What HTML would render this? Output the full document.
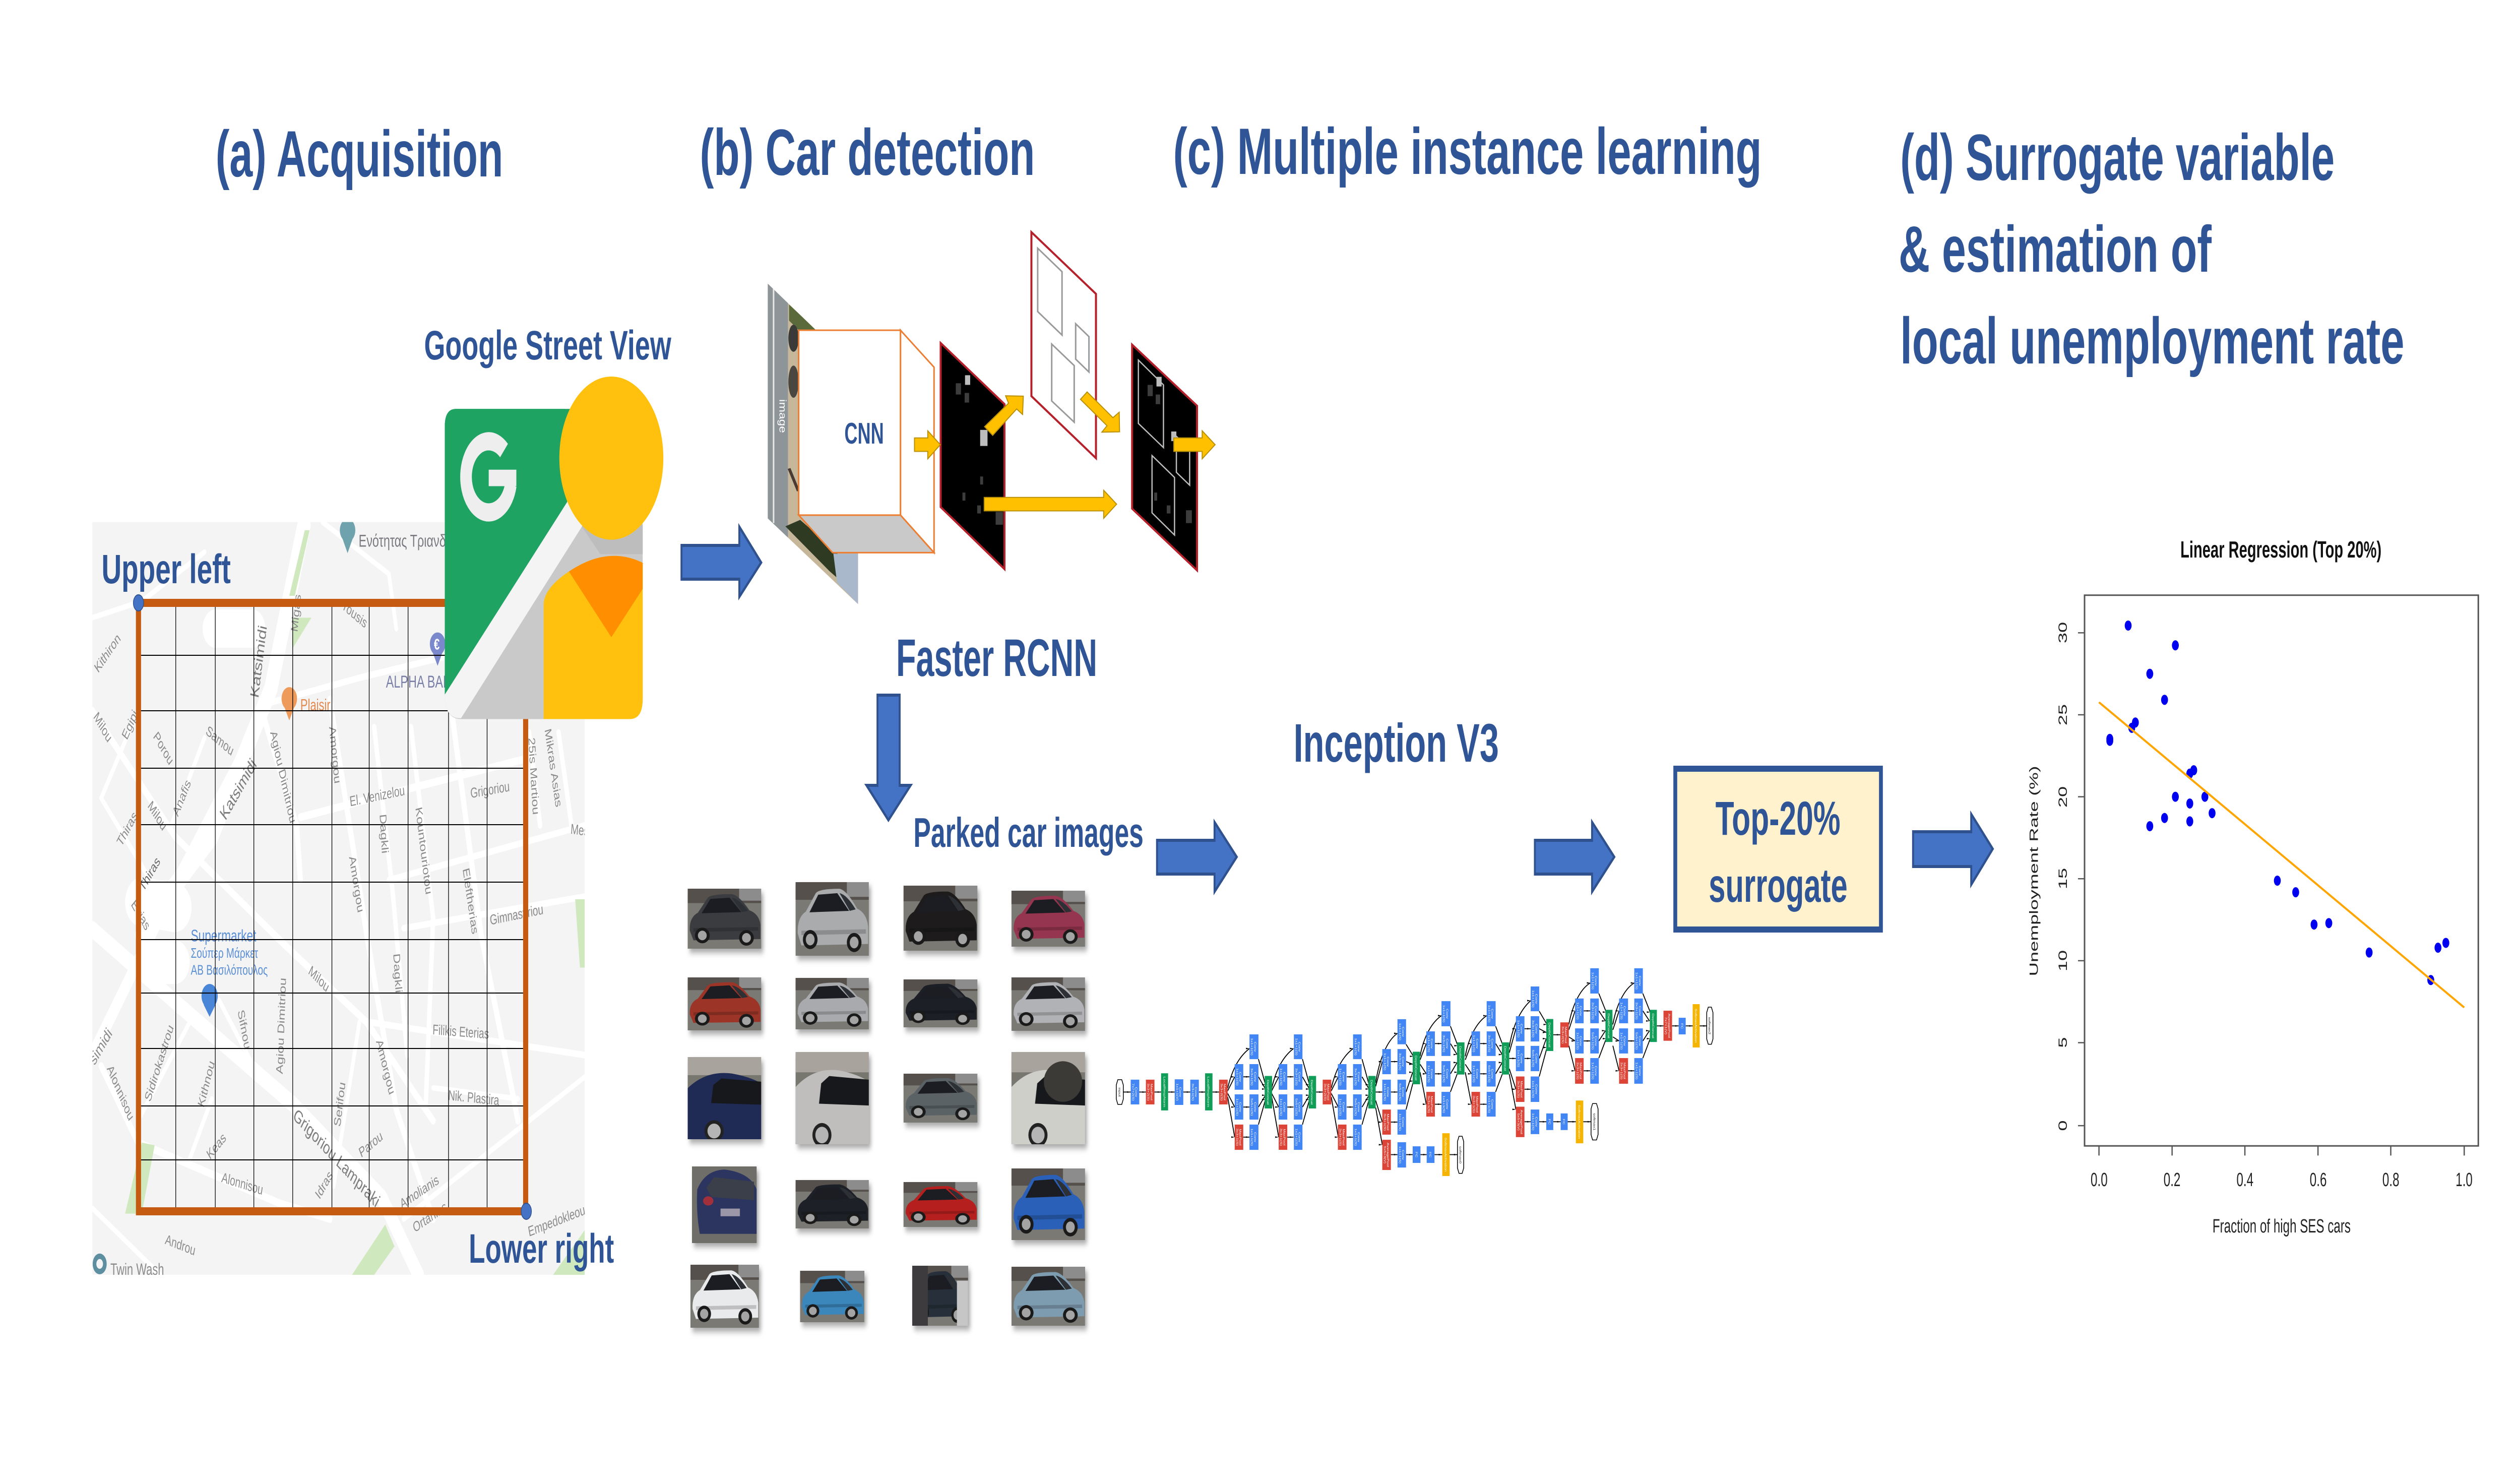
<!DOCTYPE html>
<html>
<head>
<meta charset="utf-8">
<title>Pipeline diagram</title>
<style>
html,body{margin:0;padding:0;background:#fff;width:100%;height:100%;overflow:hidden}
svg.root{display:block;width:100vw;height:100vh}
text{font-family:"Liberation Sans",sans-serif}
.t{font-weight:bold;fill:#2f5597}
.ba{fill:#4472c4;stroke:#2f528f;stroke-width:6}
.ga{fill:#ffc000;stroke:#b8900a;stroke-width:2;vector-effect:non-scaling-stroke}
.rp{stroke:#b5202b;stroke-width:4;vector-effect:non-scaling-stroke}
.gr{fill:none;stroke:#9a9a9a;stroke-width:3;vector-effect:non-scaling-stroke}
.gl{fill:none;stroke:#bdbdbd;stroke-width:2.5;vector-effect:non-scaling-stroke}
.b{fill:#4285f4}.r{fill:#db4437}.g{fill:#0f9d58}.y{fill:#f4b400}
.n{font-size:7px;fill:#fff;text-anchor:middle}
.nk{font-size:7px;fill:#111;text-anchor:middle}
.o{fill:#fff;stroke:#000;stroke-width:1.5;vector-effect:non-scaling-stroke}
.e path{fill:none;stroke:#000;stroke-width:1.8;vector-effect:non-scaling-stroke;marker-end:url(#ah)}
.e{marker-end:url(#ah)}
.road path{fill:none;stroke:#fff;stroke-linecap:round;stroke-linejoin:round}
.m{font-size:26px;fill:#8c8c8c}
.md{font-size:33px;fill:#7d7d7d}
.tk{font-size:38px;fill:#222}
</style>
</head>
<body>
<svg class="root" xmlns="http://www.w3.org/2000/svg" viewBox="0 0 7843 2942" preserveAspectRatio="none">
<defs>
<marker id="ah" viewBox="0 0 10 10" markerUnits="userSpaceOnUse" markerWidth="9" markerHeight="20" refX="10" refY="5" orient="0"><path d="M0,0L10,5L0,10Z" fill="#000"/></marker>
<clipPath id="mapc"><rect x="76" y="125" width="1335" height="1377"/></clipPath>
<clipPath id="imgc"><polygon points="252,255 497,526 497,1252 252,985"/></clipPath>
<g id="car">
<rect width="100" height="100" fill="#7a7973"/>
<rect width="100" height="24" fill="#55504b"/>
<rect x="70" y="0" width="30" height="20" fill="#8d8c8c"/>
<path d="M3,70Q2,48 14,40L27,16Q30,9 60,9Q70,11 84,36Q97,42 99,60L99,84L8,86Z" fill="currentColor"/>
<path d="M19,41L31,17L57,15L73,39Z" fill="#1b1d22"/>
<path d="M60,15Q70,17 82,37L74,39Z" fill="#2d3034"/>
<path d="M8,66L96,64L96,70L8,72Z" fill="#000" opacity=".18"/>
<ellipse cx="20" cy="78" rx="10" ry="13" fill="#1a1a1a"/><ellipse cx="20" cy="78" rx="6" ry="8" fill="#a4a4a4"/>
<ellipse cx="80" cy="82" rx="10" ry="13" fill="#1a1a1a"/><ellipse cx="80" cy="82" rx="6" ry="8" fill="#a4a4a4"/>
</g>
<g id="close">
<rect width="100" height="100" fill="#77766f"/>
<rect width="100" height="22" fill="#a8a49d"/>
<path d="M0,38Q25,16 60,20Q85,24 100,32V100H0Z" fill="currentColor"/>
<path d="M35,34L46,26L100,30V58L32,56Z" fill="#17181c"/>
<ellipse cx="36" cy="90" rx="13" ry="13" fill="#222"/><ellipse cx="36" cy="90" rx="9" ry="9" fill="#b5b5b5"/>
</g>
</defs>

<!-- ===== MAP ===== -->
<g transform="translate(200,900) scale(1.14811,1.08460)">
<g clip-path="url(#mapc)">
<rect x="76" y="125" width="1335" height="1377" fill="#f4f4f4"/>
<g class="road">
<path stroke-width="30" d="M76,870L330,1020L620,1190L860,1360L960,1502"/>
<path stroke-width="36" d="M650,130L560,430L500,530L400,700L300,790L210,880"/>
<path stroke-width="26" d="M500,530L300,790L76,1100"/>
<path stroke-width="90" d="M210,820L300,830"/>
<path stroke-width="70" d="M410,320L510,320"/>
<path stroke-width="80" d="M250,930L300,930"/>
<path stroke-width="14" d="M540,480L630,680L640,780"/>
<path stroke-width="14" d="M720,450L820,880L900,1200L1000,1400"/>
<path stroke-width="14" d="M1050,470L1130,880L1230,1220"/>
<path stroke-width="12" d="M840,500L890,800L930,1100"/>
<path stroke-width="12" d="M940,500L1000,850L980,1190"/>
<path stroke-width="14" d="M640,665L950,610L1240,560"/>
<path stroke-width="12" d="M560,455L800,410L1040,370"/>
<path stroke-width="12" d="M880,780L1411,680"/>
<path stroke-width="12" d="M920,868L1411,810"/>
<path stroke-width="12" d="M830,1040L1411,1100"/>
<path stroke-width="10" d="M1000,1160L1230,1180"/>
<path stroke-width="14" d="M76,470L300,700L600,900L820,1040L1000,1220"/>
<path stroke-width="14" d="M100,1120L200,1260L580,1370L720,1400"/>
<path stroke-width="10" d="M340,1040L200,1220"/>
<path stroke-width="10" d="M420,1000L520,1130"/>
<path stroke-width="10" d="M400,1180L340,1290"/>
<path stroke-width="10" d="M800,1040L730,1340"/>
<path stroke-width="10" d="M76,300L210,270L380,180"/>
<path stroke-width="10" d="M100,630L260,810"/>
<path stroke-width="10" d="M200,470L100,630"/>
<path stroke-width="10" d="M380,520L290,680"/>
<path stroke-width="10" d="M920,1400L1411,1140"/>
<path stroke-width="12" d="M1260,510L1290,680"/>
<path stroke-width="12" d="M1340,510L1375,680"/>
<path stroke-width="10" d="M76,1380L260,1502"/>
<path stroke-width="10" d="M700,125L880,220L900,320"/>
</g>
<g fill="#cfe8bd">
<polygon points="652,140 665,140 625,260 610,260"/>
<polygon points="620,300 670,300 620,355"/>
<polygon points="210,1260 245,1265 210,1390 165,1390"/>
<polygon points="1385,815 1411,815 1411,940 1398,940"/>
<polygon points="870,1410 895,1450 840,1502 780,1502"/>
<polygon points="1325,1502 1411,1420 1411,1502"/>
</g>
<circle cx="1012" cy="348" r="21" fill="#7c88cc"/><polygon points="998,362 1026,362 1012,388" fill="#7c88cc"/>
<text x="1002" y="358" font-size="28" fill="#fff" font-weight="bold">€</text>
<circle cx="394" cy="992" r="22" fill="#4a86d8"/><polygon points="378,1008 410,1008 394,1030" fill="#4a86d8"/>
<circle cx="610" cy="448" r="21" fill="#ee9a5a"/><polygon points="596,462 624,462 610,488" fill="#ee9a5a"/>
<circle cx="96" cy="1482" r="19" fill="#5d8fa0"/><circle cx="96" cy="1482" r="9" fill="#f4f4f4"/>
<circle cx="768" cy="140" r="21" fill="#6ea3ad"/><polygon points="754,155 782,155 768,182" fill="#6ea3ad"/>
<text class="m" x="798" y="170" font-size="32" style="font-size:32px;fill:#7a7a80">Ενότητας Τριανδ</text>
<text class="m" transform="translate(92,402) rotate(-45)">Kithiron</text>
<text class="m" transform="translate(78,482) rotate(50)">Milou</text>
<text class="m" transform="translate(170,525) rotate(-58)">Egipi</text>
<text class="m" transform="translate(240,518) rotate(50)">Porou</text>
<text class="m" transform="translate(382,512) rotate(30)">Samou</text>
<text class="md" transform="translate(526,448) rotate(-80)">Katsimidi</text>
<text class="md" transform="translate(437,672) rotate(-50)">Katsimidi</text>
<text class="m" transform="translate(632,327) rotate(-82)">Migas</text>
<text class="m" transform="translate(755,285) rotate(30)">rousis</text>
<text class="m" x="640" y="470" style="font-size:30px;fill:#e58a4e">Plaisir</text>
<text class="m" x="872" y="428" style="font-size:32px;fill:#7a7fa8">ALPHA BAN</text>
<text class="m" transform="translate(558,510) rotate(72)">Agiou Dimitriou</text>
<text class="m" transform="translate(718,500) rotate(82)">Amorgou</text>
<text class="m" transform="translate(775,645) rotate(-8)">El. Venizelou</text>
<text class="m" transform="translate(1102,630) rotate(-7)">Grigoriou</text>
<text class="m" transform="translate(855,660) rotate(85)">Dagkli</text>
<text class="m" transform="translate(952,648) rotate(80)">Kountouriotou</text>
<text class="m" transform="translate(1258,520) rotate(85)">25is Martiou</text>
<text class="m" transform="translate(1302,505) rotate(78)">Mikras Asias</text>
<text class="m" transform="translate(1372,695) rotate(5)">Mes</text>
<text class="m" transform="translate(308,665) rotate(-60)">Anafis</text>
<text class="m" transform="translate(225,645) rotate(48)">Milou</text>
<text class="m" transform="translate(155,720) rotate(-52)">Thiras</text>
<text class="m" transform="translate(215,802) rotate(-50)" style="fill:#6b6b6b">Thiras</text>
<text class="m" transform="translate(772,738) rotate(77)">Amorgou</text>
<text class="m" transform="translate(1080,760) rotate(78)">Eleftherias</text>
<text class="m" transform="translate(1155,862) rotate(-8)">Gimnastiriou</text>
<text class="m" transform="translate(180,825) rotate(50)">Evias</text>
<text class="m" x="343" y="892" style="font-size:31px;fill:#5b8fd6">Supermarket</text>
<text class="m" x="343" y="922" style="fill:#5b8fd6">Σούπερ Μάρκετ</text>
<text class="m" x="343" y="953" style="fill:#5b8fd6">ΑΒ Βασιλόπουλος</text>
<text class="m" transform="translate(660,950) rotate(35)">Milou</text>
<text class="m" transform="translate(892,915) rotate(85)">Dagkli</text>
<text class="m" transform="translate(592,1135) rotate(-87)">Agiou Dimitriou</text>
<text class="m" transform="translate(470,1020) rotate(75)">Sifnou</text>
<text class="m" transform="translate(998,1062) rotate(3)">Filikis Eterias</text>
<text class="m" transform="translate(845,1075) rotate(70)">Amorgou</text>
<text class="m" transform="translate(233,1187) rotate(-65)">Sidirokastrou</text>
<text class="m" transform="translate(82,1120) rotate(-50)" style="font-size:30px">simidi</text>
<text class="m" transform="translate(115,1125) rotate(58)">Alonnisou</text>
<text class="m" transform="translate(378,1197) rotate(-70)">Kithnou</text>
<text class="m" transform="translate(748,1232) rotate(-80)">Serifou</text>
<text class="m" transform="translate(1040,1182) rotate(4)">Nik. Plastira</text>
<text class="m" transform="translate(395,1292) rotate(-40)">Keas</text>
<text class="md" transform="translate(618,1215) rotate(36)">Grigoriou Lampraki</text>
<text class="m" transform="translate(805,1288) rotate(-30)">Parou</text>
<text class="m" transform="translate(425,1332) rotate(12)">Alonnisou</text>
<text class="m" transform="translate(692,1365) rotate(-50)">Idras</text>
<text class="m" transform="translate(915,1382) rotate(-25)">Amolianis</text>
<text class="m" transform="translate(950,1425) rotate(-25)">Ortanias</text>
<text class="m" transform="translate(1260,1432) rotate(-15)">Empedokleous</text>
<text class="m" transform="translate(272,1445) rotate(15)">Androu</text>
<text class="m" x="125" y="1502" style="font-size:30px">Twin Wash</text>
</g>
</g>

<!-- grid -->
<g stroke="#000" stroke-width="2" fill="none">
<path d="M547,1196V2403M670,1196V2403M790,1196V2403M911,1196V2403M1033,1196V2403M1149,1196V2403M1270,1196V2403M1396,1196V2403M1516,1196V2403"/>
<path d="M431,1300H1636M431,1410H1636M431,1524H1636M431,1636H1636M431,1750H1636M431,1864H1636M431,1970H1636M431,2080H1636M431,2194H1636M431,2301H1636"/>
</g>
<rect x="431" y="1196" width="1205" height="1207" fill="none" stroke="#c55a11" stroke-width="16"/>
<circle cx="431" cy="1196" r="16" fill="#4472c4" stroke="#2f528f" stroke-width="2"/>
<circle cx="1638" cy="2403" r="16" fill="#4472c4" stroke="#2f528f" stroke-width="2"/>
<text class="t" x="316" y="1157" font-size="82" textLength="402" lengthAdjust="spacingAndGlyphs">Upper left</text>
<text class="t" x="1459" y="2505" font-size="82" textLength="452" lengthAdjust="spacingAndGlyphs">Lower right</text>

<!-- ===== Street View icon ===== -->
<text class="t" x="1320" y="713" font-size="82" textLength="769" lengthAdjust="spacingAndGlyphs">Google Street View</text>
<g transform="translate(1300,600) scale(.57398)">
<path d="M147,1355V428Q147,368 207,368H1160Q1220,368 1220,428V1370Q1220,1440 1150,1440H235Q147,1440 147,1355Z" fill="#c9c9c9"/>
<path d="M147,1355V428Q147,368 207,368H900L810,690Z" fill="#1ea362"/>
<path d="M147,1355L810,690L900,368H1000L890,775L235,1437Q147,1440 147,1355Z" fill="#f4f4f4"/>
<path d="M800,368L810,690L147,1355V428Q147,368 207,368Z" fill="#1ea362"/>
<path d="M890,775L990,870H1220V770L1000,640Z" fill="#bdbdbd"/>
<path d="M683,1440V1040Q690,985 820,930Q1030,840 1220,900V1370Q1220,1440 1150,1440Z" fill="#ffc10d"/>
<path d="M820,930Q1030,840 1220,900V990L1050,1157Z" fill="#ff8f00"/>
<circle cx="1050" cy="538" r="282" fill="#ffc10d"/>
<path d="M468,512A123,123 0 1 0 505,630" fill="none" stroke="#eeeeee" stroke-width="63"/>
<rect x="385" y="578" width="150" height="57" fill="#eeeeee"/>
</g>

<!-- ===== Titles ===== -->
<text class="t" x="671" y="350" font-size="130" textLength="895" lengthAdjust="spacingAndGlyphs">(a) Acquisition</text>
<text class="t" x="2178" y="347" font-size="130" textLength="1043" lengthAdjust="spacingAndGlyphs">(b) Car detection</text>
<text class="t" x="3651" y="345" font-size="130" textLength="1832" lengthAdjust="spacingAndGlyphs">(c) Multiple instance learning</text>
<text class="t" x="5914" y="357" font-size="130" textLength="1352" lengthAdjust="spacingAndGlyphs">(d) Surrogate variable</text>
<text class="t" x="5909" y="539" font-size="130" textLength="974" lengthAdjust="spacingAndGlyphs">&amp; estimation of</text>
<text class="t" x="5914" y="721" font-size="130" textLength="1569" lengthAdjust="spacingAndGlyphs">local unemployment rate</text>

<!-- ===== Faster RCNN ===== -->
<g transform="translate(2100,400) scale(1.14796,.63776)">
<g clip-path="url(#imgc)">
<rect x="252" y="255" width="245" height="1000" fill="#c7b79a"/>
<rect x="252" y="255" width="55" height="900" fill="#8e9599"/>
<path d="M268,270V1000" stroke="#e8e8e8" stroke-width="3" fill="none" vector-effect="non-scaling-stroke"/>
<polygon points="310,320 385,400 336,400 310,370" fill="#5a6a3a"/>
<ellipse cx="322" cy="425" rx="14" ry="42" fill="#3a3a38"/>
<ellipse cx="322" cy="560" rx="14" ry="50" fill="#4a4640"/>
<path d="M310,830L335,900" stroke="#4a3a32" stroke-width="8" fill="none"/>
<polygon points="340,990 440,1090 470,1200 420,1150 300,1010" fill="#2e3a22"/>
<polygon points="430,1095 497,1095 497,1252 440,1185" fill="#a9b8cb"/>
</g>
<path d="M612,400L703,515V1092L612,975Z" fill="#fff" stroke="#ed7d31" stroke-width="3" vector-effect="non-scaling-stroke"/>
<polygon points="336,975 612,975 703,1092 428,1092" fill="#c9c9c9" stroke="#ed7d31" stroke-width="3" vector-effect="non-scaling-stroke"/>
<rect x="336" y="400" width="276" height="575" fill="#fff" stroke="#ed7d31" stroke-width="3" vector-effect="non-scaling-stroke"/>

<polygon class="rp" points="721,440 894,630 894,1143 721,950" fill="#000"/>
<g fill="#bdbdbd"><rect x="787" y="540" width="14" height="30"/><rect x="828" y="710" width="20" height="50"/></g>
<g fill="#3d3d3d"><rect x="762" y="565" width="14" height="35"/><rect x="786" y="595" width="12" height="30"/><rect x="828" y="855" width="8" height="25"/><rect x="870" y="965" width="20" height="40"/><rect x="780" y="905" width="8" height="25"/><rect x="820" y="945" width="10" height="25"/></g>

<polygon class="rp" points="967,95 1142,287 1142,798 967,605" fill="#fff"/>
<polygon class="gr" points="984,145 1050,218 1050,415 984,342"/>
<polygon class="gr" points="1087,380 1123,420 1123,530 1087,490"/>
<polygon class="gr" points="1022,443 1083,510 1083,686 1022,620"/>

<polygon class="rp" points="1240,445 1416,635 1416,1147 1240,955" fill="#000"/>
<g fill="#bdbdbd"><rect x="1306" y="545" width="14" height="30"/><rect x="1346" y="715" width="14" height="30"/></g>
<g fill="#3d3d3d"><rect x="1282" y="570" width="14" height="35"/><rect x="1304" y="600" width="12" height="30"/><rect x="1386" y="960" width="16" height="40"/><rect x="1300" y="905" width="8" height="25"/><rect x="1334" y="945" width="10" height="25"/></g>
<polygon class="gl" points="1257,493 1325,570 1325,765 1257,690"/>
<polygon class="gl" points="1360,730 1396,770 1396,882 1360,842"/>
<polygon class="gl" points="1294,790 1355,858 1355,1037 1294,968"/>

<polygon class="ga" points="650,735 686,735 686,713 720,756 686,800 686,777 650,777"/>
<polygon class="ga" points="840,700 905,627 897,604 945,605 943,662 927,645 862,727"/>
<polygon class="ga" points="1118,592 1188,672 1205,655 1206,716 1158,717 1172,697 1100,615"/>
<polygon class="ga" points="839,920 1163,920 1163,898 1198,941 1163,985 1163,962 839,962"/>
<polygon class="ga" points="1353,735 1430,735 1430,713 1465,756 1430,800 1430,777 1353,777"/>
</g>
<text transform="translate(2426,792) rotate(90)" font-size="30" fill="#fff" textLength="67" lengthAdjust="spacingAndGlyphs">image</text>
<text class="t" x="2628" y="880" font-size="59" textLength="123" lengthAdjust="spacingAndGlyphs">CNN</text>
<text class="t" x="2789" y="1341" font-size="105" textLength="626" lengthAdjust="spacingAndGlyphs">Faster RCNN</text>

<!-- blue arrows -->
<polygon class="ba" points="2121,1082 2301,1082 2301,1045 2369,1116 2301,1184 2301,1149 2121,1149"/>
<polygon class="ba" points="2731,1379 2800,1379 2800,1558 2834,1558 2765,1627 2697,1558 2731,1558"/>
<polygon class="ba" points="3601,1667 3780,1667 3780,1631 3849,1700 3780,1769 3780,1734 3601,1734"/>
<polygon class="ba" points="4777,1667 4955,1667 4955,1631 5024,1700 4955,1769 4955,1734 4777,1734"/>
<polygon class="ba" points="5954,1650 6135,1650 6135,1615 6202,1684 6135,1755 6135,1719 5954,1719"/>

<text class="t" x="2843" y="1680" font-size="83" textLength="716" lengthAdjust="spacingAndGlyphs">Parked car images</text>
<text class="t" x="4026" y="1511" font-size="108" textLength="639" lengthAdjust="spacingAndGlyphs">Inception V3</text>

<!-- ===== Cars ===== -->
<g style="filter:drop-shadow(6px 8px 6px rgba(0,0,0,.35))">
<svg x="2140" y="1763" width="229" height="119" viewBox="0 0 100 100" preserveAspectRatio="none" style="color:#3a3c40"><use href="#car"/></svg>
<svg x="2476" y="1750" width="228" height="146" viewBox="0 0 100 100" preserveAspectRatio="none" style="color:#a9abad"><use href="#car"/></svg>
<svg x="2812" y="1757" width="230" height="129" viewBox="0 0 100 100" preserveAspectRatio="none" style="color:#1d1b1c"><use href="#car"/></svg>
<svg x="3148" y="1767" width="229" height="111" viewBox="0 0 100 100" preserveAspectRatio="none" style="color:#96354f"><use href="#car"/></svg>
<svg x="2140" y="1939" width="229" height="105" viewBox="0 0 100 100" preserveAspectRatio="none" style="color:#9c3528"><use href="#car"/></svg>
<svg x="2476" y="1940" width="228" height="102" viewBox="0 0 100 100" preserveAspectRatio="none" style="color:#a8aaad"><use href="#car"/></svg>
<svg x="2812" y="1943" width="230" height="95" viewBox="0 0 100 100" preserveAspectRatio="none" style="color:#1c1f26"><use href="#car"/></svg>
<svg x="3148" y="1939" width="229" height="106" viewBox="0 0 100 100" preserveAspectRatio="none" style="color:#b0b2b5"><use href="#car"/></svg>
<svg x="2140" y="2097" width="229" height="163" viewBox="0 0 100 100" preserveAspectRatio="none" style="color:#1f2a55"><use href="#close"/></svg>
<svg x="2476" y="2087" width="228" height="183" viewBox="0 0 100 100" preserveAspectRatio="none" style="color:#bfbebc"><use href="#close"/></svg>
<svg x="2812" y="2130" width="230" height="97" viewBox="0 0 100 100" preserveAspectRatio="none" style="color:#5a6266"><use href="#car"/></svg>
<svg x="3148" y="2087" width="229" height="183" viewBox="0 0 100 100" preserveAspectRatio="none" style="color:#cfcfca"><use href="#close"/><ellipse cx="70" cy="32" rx="26" ry="22" fill="#3b3a36"/></svg>
<svg x="2154" y="2314" width="201" height="152" viewBox="0 0 100 100" preserveAspectRatio="none" style="color:#2b3560"><rect width="100" height="100" fill="#6f6e68"/><path d="M8,30Q20,5 50,4Q90,8 100,30V88H12Q6,60 8,30Z" fill="currentColor"/><path d="M22,28L34,14L96,20V44L30,40Z" fill="#3b3f4a"/><rect x="44" y="55" width="30" height="10" fill="#9c97a8"/><ellipse cx="25" cy="45" rx="8" ry="6" fill="#a2303a"/></svg>
<svg x="2476" y="2341" width="228" height="96" viewBox="0 0 100 100" preserveAspectRatio="none" style="color:#1d2026"><use href="#car"/></svg>
<svg x="2812" y="2345" width="230" height="89" viewBox="0 0 100 100" preserveAspectRatio="none" style="color:#b5201f"><use href="#car"/></svg>
<svg x="3148" y="2318" width="229" height="142" viewBox="0 0 100 100" preserveAspectRatio="none" style="color:#2a60b8"><use href="#car"/></svg>
<svg x="2149" y="2509" width="213" height="125" viewBox="0 0 100 100" preserveAspectRatio="none" style="color:#e9eaec"><use href="#car"/></svg>
<svg x="2490" y="2521" width="200" height="102" viewBox="0 0 100 100" preserveAspectRatio="none" style="color:#3b87bb"><use href="#car"/></svg>
<svg x="2839" y="2511" width="174" height="119" viewBox="0 0 100 100" preserveAspectRatio="none" style="color:#27303a"><use href="#car"/><rect width="28" height="100" fill="#3d3b3e"/><rect x="80" y="25" width="20" height="75" fill="#c6c6c6"/></svg>
<svg x="3148" y="2513" width="229" height="117" viewBox="0 0 100 100" preserveAspectRatio="none" style="color:#7e9cb0"><use href="#car"/></svg>
</g>

<!-- ===== Inception network ===== -->
<g transform="translate(3450,1850) scale(1.21212,.35077)">
<g class="e">
<path d="M38,902H57"/><path d="M79,902H96"/><path d="M118,902H135"/><path d="M153,902H170"/><path d="M192,902H210"/><path d="M232,902H248"/><path d="M267,902H284"/>
<g id="mod">
<path d="M306,880C318,770 336,700 362,656"/>
<path d="M306,895L324,816"/><path d="M306,910L324,987"/><path d="M306,930L324,1157"/>
<path d="M346,816H362"/><path d="M346,987H362"/><path d="M346,1157H362"/>
<path d="M385,716L403,860"/><path d="M385,816L403,885"/><path d="M385,987L403,920"/><path d="M385,1086L403,945"/>
</g>
<use href="#mod" x="113"/>
<path d="M533,902H550"/>
<use href="#mod" x="266"/>
<path d="M686,850C695,720 715,610 742,570"/><path d="M686,870L703,730"/><path d="M686,902H703"/><path d="M686,950L703,1072"/>
<path d="M725,730H742"/><path d="M725,902H742"/><path d="M725,1072H742"/>
<path d="M764,632L783,700"/><path d="M764,730L781,745"/><path d="M764,902L781,790"/><path d="M764,1001L783,840"/>
<path d="M686,990L703,1200"/><path d="M725,1256H742"/><path d="M764,1256H781"/><path d="M801,1256H817"/><path d="M837,1256H857"/><path d="M876,1256H896"/>
<g id="mod4">
<path d="M800,700C808,600 828,510 855,470"/><path d="M800,720L816,628"/><path d="M800,745L816,799"/><path d="M800,790L816,971"/>
<path d="M838,628H855"/><path d="M838,799H855"/><path d="M838,971H855"/>
<path d="M878,530L897,640"/><path d="M878,628L895,690"/><path d="M878,799L895,735"/><path d="M878,901L897,790"/>
</g>
<use href="#mod4" x="116"/>
<path d="M1029,650C1036,540 1056,440 1084,385"/><path d="M1029,680L1046,544"/><path d="M1029,712H1046"/><path d="M1029,770L1046,886"/><path d="M1029,800L1046,1000"/>
<path d="M1068,544H1084"/><path d="M1068,712H1084"/><path d="M1068,886H1084"/>
<path d="M1106,445L1126,520"/><path d="M1106,544L1124,565"/><path d="M1106,712L1124,600"/><path d="M1106,814L1126,650"/>
<path d="M1068,1070H1084"/><path d="M1106,1070H1124"/><path d="M1142,1070H1161"/><path d="M1179,1070H1200"/><path d="M1219,1070H1239"/>
<path d="M1142,578H1160"/>
<g id="mod5">
<path d="M1182,520C1190,420 1210,320 1237,285"/><path d="M1182,550L1198,443"/><path d="M1182,590L1198,613"/><path d="M1182,640L1198,782"/>
<path d="M1220,443H1237"/><path d="M1220,613H1237"/><path d="M1220,782H1237"/>
<path d="M1259,345L1278,450"/><path d="M1259,443L1276,500"/><path d="M1259,613L1276,555"/><path d="M1259,710L1278,600"/>
</g>
<use href="#mod5" x="113"/>
<path d="M1408,528H1425"/><path d="M1447,528H1464"/><path d="M1482,528H1500"/><path d="M1518,528H1536"/>
</g>

<polygon class="o" points="24,832 34,832 38,862 38,942 34,972 24,972 20,942 20,862"/>
<text class="nk" transform="matrix(0,3.46,-1,0,29,902)" y="3">input</text>
<polygon class="o" points="900,1152 908,1152 912,1182 912,1332 908,1362 900,1362 896,1332 896,1182"/>
<text class="nk" transform="matrix(0,3.46,-1,0,904,1257)" y="3">softmax0</text>
<polygon class="o" points="1243,967 1253,967 1257,997 1257,1143 1253,1173 1243,1173 1239,1143 1239,997"/>
<text class="nk" transform="matrix(0,3.46,-1,0,1248,1070)" y="3">softmax1</text>
<polygon class="o" points="1540,422 1548,422 1552,452 1552,602 1548,632 1540,632 1536,602 1536,452"/>
<text class="nk" transform="matrix(0,3.46,-1,0,1544,527)" y="3">softmax2</text>

<!-- stem -->
<rect class="b" x="57" y="832" width="22" height="140"/><text class="n" transform="matrix(0,3.46,-1,0,68,902)"><tspan x="0" y="-1">Conv</tspan><tspan x="0" y="7">7x7+2(S)</tspan></text>
<rect class="r" x="96" y="832" width="22" height="140"/><text class="n" transform="matrix(0,3.46,-1,0,107,902)"><tspan x="0" y="-1">MaxPool</tspan><tspan x="0" y="7">3x3+2(S)</tspan></text>
<rect class="g" x="135" y="796" width="18" height="210"/><text class="n" transform="matrix(0,3.46,-1,0,144,901)" y="3">LocalRespNorm</text>
<rect class="b" x="170" y="830" width="22" height="145"/><text class="n" transform="matrix(0,3.46,-1,0,181,902)"><tspan x="0" y="-1">Conv</tspan><tspan x="0" y="7">1x1+1(V)</tspan></text>
<rect class="b" x="210" y="832" width="22" height="140"/><text class="n" transform="matrix(0,3.46,-1,0,221,902)"><tspan x="0" y="-1">Conv</tspan><tspan x="0" y="7">3x3+1(S)</tspan></text>
<rect class="g" x="248" y="796" width="19" height="210"/><text class="n" transform="matrix(0,3.46,-1,0,257,901)" y="3">LocalRespNorm</text>
<rect class="r" x="284" y="832" width="22" height="140"/><text class="n" transform="matrix(0,3.46,-1,0,295,902)"><tspan x="0" y="-1">MaxPool</tspan><tspan x="0" y="7">3x3+2(S)</tspan></text>

<!-- 3a -->
<rect class="b" x="324" y="744" width="22" height="145"/><text class="n" transform="matrix(0,3.46,-1,0,335,816)"><tspan x="0" y="-1">Conv</tspan><tspan x="0" y="7">1x1+1(S)</tspan></text>
<rect class="b" x="324" y="915" width="22" height="143"/><text class="n" transform="matrix(0,3.46,-1,0,335,987)"><tspan x="0" y="-1">Conv</tspan><tspan x="0" y="7">1x1+1(S)</tspan></text>
<rect class="r" x="324" y="1086" width="22" height="143"/><text class="n" transform="matrix(0,3.46,-1,0,335,1157)"><tspan x="0" y="-1">MaxPool</tspan><tspan x="0" y="7">3x3+1(S)</tspan></text>
<rect class="b" x="362" y="576" width="23" height="140"/><text class="n" transform="matrix(0,3.46,-1,0,373,646)"><tspan x="0" y="-1">Conv</tspan><tspan x="0" y="7">1x1+1(S)</tspan></text>
<rect class="b" x="362" y="744" width="23" height="145"/><text class="n" transform="matrix(0,3.46,-1,0,373,816)"><tspan x="0" y="-1">Conv</tspan><tspan x="0" y="7">3x3+1(S)</tspan></text>
<rect class="b" x="362" y="915" width="23" height="143"/><text class="n" transform="matrix(0,3.46,-1,0,373,987)"><tspan x="0" y="-1">Conv</tspan><tspan x="0" y="7">5x5+1(S)</tspan></text>
<rect class="b" x="362" y="1086" width="23" height="143"/><text class="n" transform="matrix(0,3.46,-1,0,373,1157)"><tspan x="0" y="-1">Conv</tspan><tspan x="0" y="7">1x1+1(S)</tspan></text>
<rect class="g" x="401" y="811" width="19" height="184"/><text class="n" transform="matrix(0,3.46,-1,0,410,903)" y="3">DepthConcat</text>

<!-- 3b -->
<rect class="b" x="437" y="744" width="22" height="145"/><text class="n" transform="matrix(0,3.46,-1,0,448,816)"><tspan x="0" y="-1">Conv</tspan><tspan x="0" y="7">1x1+1(S)</tspan></text>
<rect class="b" x="437" y="915" width="22" height="143"/><text class="n" transform="matrix(0,3.46,-1,0,448,987)"><tspan x="0" y="-1">Conv</tspan><tspan x="0" y="7">1x1+1(S)</tspan></text>
<rect class="r" x="437" y="1086" width="22" height="143"/><text class="n" transform="matrix(0,3.46,-1,0,448,1157)"><tspan x="0" y="-1">MaxPool</tspan><tspan x="0" y="7">3x3+1(S)</tspan></text>
<rect class="b" x="476" y="576" width="22" height="140"/><text class="n" transform="matrix(0,3.46,-1,0,487,646)"><tspan x="0" y="-1">Conv</tspan><tspan x="0" y="7">1x1+1(S)</tspan></text>
<rect class="b" x="476" y="744" width="22" height="145"/><text class="n" transform="matrix(0,3.46,-1,0,487,816)"><tspan x="0" y="-1">Conv</tspan><tspan x="0" y="7">3x3+1(S)</tspan></text>
<rect class="b" x="476" y="915" width="22" height="143"/><text class="n" transform="matrix(0,3.46,-1,0,487,987)"><tspan x="0" y="-1">Conv</tspan><tspan x="0" y="7">5x5+1(S)</tspan></text>
<rect class="b" x="476" y="1086" width="22" height="143"/><text class="n" transform="matrix(0,3.46,-1,0,487,1157)"><tspan x="0" y="-1">Conv</tspan><tspan x="0" y="7">1x1+1(S)</tspan></text>
<rect class="g" x="514" y="811" width="19" height="184"/><text class="n" transform="matrix(0,3.46,-1,0,523,903)" y="3">DepthConcat</text>
<rect class="r" x="550" y="832" width="22" height="140"/><text class="n" transform="matrix(0,3.46,-1,0,561,902)"><tspan x="0" y="-1">MaxPool</tspan><tspan x="0" y="7">3x3+2(S)</tspan></text>

<!-- 4a -->
<rect class="b" x="589" y="744" width="22" height="145"/><text class="n" transform="matrix(0,3.46,-1,0,600,816)"><tspan x="0" y="-1">Conv</tspan><tspan x="0" y="7">1x1+1(S)</tspan></text>
<rect class="b" x="589" y="915" width="22" height="143"/><text class="n" transform="matrix(0,3.46,-1,0,600,987)"><tspan x="0" y="-1">Conv</tspan><tspan x="0" y="7">1x1+1(S)</tspan></text>
<rect class="r" x="589" y="1086" width="22" height="143"/><text class="n" transform="matrix(0,3.46,-1,0,600,1157)"><tspan x="0" y="-1">MaxPool</tspan><tspan x="0" y="7">3x3+1(S)</tspan></text>
<rect class="b" x="628" y="576" width="22" height="140"/><text class="n" transform="matrix(0,3.46,-1,0,639,646)"><tspan x="0" y="-1">Conv</tspan><tspan x="0" y="7">1x1+1(S)</tspan></text>
<rect class="b" x="628" y="744" width="22" height="145"/><text class="n" transform="matrix(0,3.46,-1,0,639,816)"><tspan x="0" y="-1">Conv</tspan><tspan x="0" y="7">3x3+1(S)</tspan></text>
<rect class="b" x="628" y="915" width="22" height="143"/><text class="n" transform="matrix(0,3.46,-1,0,639,987)"><tspan x="0" y="-1">Conv</tspan><tspan x="0" y="7">5x5+1(S)</tspan></text>
<rect class="b" x="628" y="1086" width="22" height="143"/><text class="n" transform="matrix(0,3.46,-1,0,639,1157)"><tspan x="0" y="-1">Conv</tspan><tspan x="0" y="7">1x1+1(S)</tspan></text>
<rect class="g" x="667" y="811" width="19" height="184"/><text class="n" transform="matrix(0,3.46,-1,0,676,903)" y="3">DepthConcat</text>

<!-- 4b + aux0 -->
<rect class="b" x="703" y="659" width="22" height="142"/><text class="n" transform="matrix(0,3.46,-1,0,714,730)"><tspan x="0" y="-1">Conv</tspan><tspan x="0" y="7">1x1+1(S)</tspan></text>
<rect class="b" x="703" y="832" width="22" height="140"/><text class="n" transform="matrix(0,3.46,-1,0,714,902)"><tspan x="0" y="-1">Conv</tspan><tspan x="0" y="7">1x1+1(S)</tspan></text>
<rect class="r" x="703" y="1001" width="22" height="142"/><text class="n" transform="matrix(0,3.46,-1,0,714,1072)"><tspan x="0" y="-1">MaxPool</tspan><tspan x="0" y="7">3x3+1(S)</tspan></text>
<rect class="r" x="703" y="1172" width="22" height="171"/><text class="n" transform="matrix(0,3.46,-1,0,714,1257)"><tspan x="0" y="-1">AveragePool</tspan><tspan x="0" y="7">5x5+3(V)</tspan></text>
<rect class="b" x="742" y="490" width="22" height="142"/><text class="n" transform="matrix(0,3.46,-1,0,753,561)"><tspan x="0" y="-1">Conv</tspan><tspan x="0" y="7">1x1+1(S)</tspan></text>
<rect class="b" x="742" y="659" width="22" height="142"/><text class="n" transform="matrix(0,3.46,-1,0,753,730)"><tspan x="0" y="-1">Conv</tspan><tspan x="0" y="7">3x3+1(S)</tspan></text>
<rect class="b" x="742" y="832" width="22" height="140"/><text class="n" transform="matrix(0,3.46,-1,0,753,902)"><tspan x="0" y="-1">Conv</tspan><tspan x="0" y="7">5x5+1(S)</tspan></text>
<rect class="b" x="742" y="1001" width="22" height="142"/><text class="n" transform="matrix(0,3.46,-1,0,753,1072)"><tspan x="0" y="-1">Conv</tspan><tspan x="0" y="7">1x1+1(S)</tspan></text>
<rect class="b" x="742" y="1186" width="22" height="143"/><text class="n" transform="matrix(0,3.46,-1,0,753,1257)"><tspan x="0" y="-1">Conv</tspan><tspan x="0" y="7">1x1+1(S)</tspan></text>
<rect class="b" x="781" y="1209" width="20" height="94"/><text class="n" transform="matrix(0,3.46,-1,0,791,1256)" y="3">FC</text>
<rect class="b" x="817" y="1209" width="20" height="94"/><text class="n" transform="matrix(0,3.46,-1,0,827,1256)" y="3">FC</text>
<rect class="y" x="857" y="1135" width="19" height="242"/><text class="n" transform="matrix(0,3.46,-1,0,866,1256)" y="3">SoftmaxActivation</text>
<rect class="g" x="781" y="674" width="19" height="184"/><text class="n" transform="matrix(0,3.46,-1,0,790,766)" y="3">DepthConcat</text>

<!-- 4c -->
<rect class="b" x="816" y="559" width="22" height="139"/><text class="n" transform="matrix(0,3.46,-1,0,827,628)"><tspan x="0" y="-1">Conv</tspan><tspan x="0" y="7">1x1+1(S)</tspan></text>
<rect class="b" x="816" y="727" width="22" height="144"/><text class="n" transform="matrix(0,3.46,-1,0,827,799)"><tspan x="0" y="-1">Conv</tspan><tspan x="0" y="7">1x1+1(S)</tspan></text>
<rect class="r" x="816" y="901" width="22" height="140"/><text class="n" transform="matrix(0,3.46,-1,0,827,971)"><tspan x="0" y="-1">MaxPool</tspan><tspan x="0" y="7">3x3+1(S)</tspan></text>
<rect class="b" x="855" y="388" width="23" height="142"/><text class="n" transform="matrix(0,3.46,-1,0,866,459)"><tspan x="0" y="-1">Conv</tspan><tspan x="0" y="7">1x1+1(S)</tspan></text>
<rect class="b" x="855" y="559" width="23" height="139"/><text class="n" transform="matrix(0,3.46,-1,0,866,628)"><tspan x="0" y="-1">Conv</tspan><tspan x="0" y="7">3x3+1(S)</tspan></text>
<rect class="b" x="855" y="727" width="23" height="144"/><text class="n" transform="matrix(0,3.46,-1,0,866,799)"><tspan x="0" y="-1">Conv</tspan><tspan x="0" y="7">5x5+1(S)</tspan></text>
<rect class="b" x="855" y="901" width="23" height="140"/><text class="n" transform="matrix(0,3.46,-1,0,866,971)"><tspan x="0" y="-1">Conv</tspan><tspan x="0" y="7">1x1+1(S)</tspan></text>
<rect class="g" x="895" y="621" width="19" height="182"/><text class="n" transform="matrix(0,3.46,-1,0,904,712)" y="3">DepthConcat</text>

<!-- 4d -->
<rect class="b" x="932" y="559" width="22" height="139"/><text class="n" transform="matrix(0,3.46,-1,0,943,628)"><tspan x="0" y="-1">Conv</tspan><tspan x="0" y="7">1x1+1(S)</tspan></text>
<rect class="b" x="932" y="727" width="22" height="144"/><text class="n" transform="matrix(0,3.46,-1,0,943,799)"><tspan x="0" y="-1">Conv</tspan><tspan x="0" y="7">1x1+1(S)</tspan></text>
<rect class="r" x="932" y="901" width="22" height="140"/><text class="n" transform="matrix(0,3.46,-1,0,943,971)"><tspan x="0" y="-1">MaxPool</tspan><tspan x="0" y="7">3x3+1(S)</tspan></text>
<rect class="b" x="971" y="388" width="23" height="142"/><text class="n" transform="matrix(0,3.46,-1,0,982,459)"><tspan x="0" y="-1">Conv</tspan><tspan x="0" y="7">1x1+1(S)</tspan></text>
<rect class="b" x="971" y="559" width="23" height="139"/><text class="n" transform="matrix(0,3.46,-1,0,982,628)"><tspan x="0" y="-1">Conv</tspan><tspan x="0" y="7">3x3+1(S)</tspan></text>
<rect class="b" x="971" y="727" width="23" height="144"/><text class="n" transform="matrix(0,3.46,-1,0,982,799)"><tspan x="0" y="-1">Conv</tspan><tspan x="0" y="7">5x5+1(S)</tspan></text>
<rect class="b" x="971" y="901" width="23" height="140"/><text class="n" transform="matrix(0,3.46,-1,0,982,971)"><tspan x="0" y="-1">Conv</tspan><tspan x="0" y="7">1x1+1(S)</tspan></text>
<rect class="g" x="1010" y="621" width="19" height="182"/><text class="n" transform="matrix(0,3.46,-1,0,1019,712)" y="3">DepthConcat</text>

<!-- 4e + aux1 -->
<rect class="b" x="1046" y="473" width="22" height="143"/><text class="n" transform="matrix(0,3.46,-1,0,1057,544)"><tspan x="0" y="-1">Conv</tspan><tspan x="0" y="7">1x1+1(S)</tspan></text>
<rect class="b" x="1046" y="641" width="22" height="143"/><text class="n" transform="matrix(0,3.46,-1,0,1057,712)"><tspan x="0" y="-1">Conv</tspan><tspan x="0" y="7">1x1+1(S)</tspan></text>
<rect class="r" x="1046" y="814" width="22" height="144"/><text class="n" transform="matrix(0,3.46,-1,0,1057,886)"><tspan x="0" y="-1">MaxPool</tspan><tspan x="0" y="7">3x3+1(S)</tspan></text>
<rect class="r" x="1046" y="985" width="22" height="172"/><text class="n" transform="matrix(0,3.46,-1,0,1057,1071)"><tspan x="0" y="-1">AveragePool</tspan><tspan x="0" y="7">5x5+3(V)</tspan></text>
<rect class="b" x="1084" y="305" width="22" height="140"/><text class="n" transform="matrix(0,3.46,-1,0,1095,375)"><tspan x="0" y="-1">Conv</tspan><tspan x="0" y="7">1x1+1(S)</tspan></text>
<rect class="b" x="1084" y="473" width="22" height="143"/><text class="n" transform="matrix(0,3.46,-1,0,1095,544)"><tspan x="0" y="-1">Conv</tspan><tspan x="0" y="7">3x3+1(S)</tspan></text>
<rect class="b" x="1084" y="641" width="22" height="143"/><text class="n" transform="matrix(0,3.46,-1,0,1095,712)"><tspan x="0" y="-1">Conv</tspan><tspan x="0" y="7">5x5+1(S)</tspan></text>
<rect class="b" x="1084" y="814" width="22" height="144"/><text class="n" transform="matrix(0,3.46,-1,0,1095,886)"><tspan x="0" y="-1">Conv</tspan><tspan x="0" y="7">1x1+1(S)</tspan></text>
<rect class="b" x="1084" y="1001" width="22" height="139"/><text class="n" transform="matrix(0,3.46,-1,0,1095,1070)"><tspan x="0" y="-1">Conv</tspan><tspan x="0" y="7">1x1+1(S)</tspan></text>
<rect class="b" x="1124" y="1023" width="18" height="94"/><text class="n" transform="matrix(0,3.46,-1,0,1133,1070)" y="3">FC</text>
<rect class="b" x="1161" y="1023" width="18" height="94"/><text class="n" transform="matrix(0,3.46,-1,0,1170,1070)" y="3">FC</text>
<rect class="y" x="1200" y="950" width="19" height="242"/><text class="n" transform="matrix(0,3.46,-1,0,1209,1071)" y="3">SoftmaxActivation</text>
<rect class="g" x="1124" y="489" width="18" height="181"/><text class="n" transform="matrix(0,3.46,-1,0,1133,579)" y="3">DepthConcat</text>
<rect class="r" x="1160" y="508" width="22" height="142"/><text class="n" transform="matrix(0,3.46,-1,0,1171,579)"><tspan x="0" y="-1">MaxPool</tspan><tspan x="0" y="7">3x3+2(S)</tspan></text>

<!-- 5a -->
<rect class="b" x="1198" y="373" width="22" height="140"/><text class="n" transform="matrix(0,3.46,-1,0,1209,443)"><tspan x="0" y="-1">Conv</tspan><tspan x="0" y="7">1x1+1(S)</tspan></text>
<rect class="b" x="1198" y="542" width="22" height="142"/><text class="n" transform="matrix(0,3.46,-1,0,1209,613)"><tspan x="0" y="-1">Conv</tspan><tspan x="0" y="7">1x1+1(S)</tspan></text>
<rect class="r" x="1198" y="710" width="22" height="145"/><text class="n" transform="matrix(0,3.46,-1,0,1209,782)"><tspan x="0" y="-1">MaxPool</tspan><tspan x="0" y="7">3x3+1(S)</tspan></text>
<rect class="b" x="1237" y="202" width="22" height="143"/><text class="n" transform="matrix(0,3.46,-1,0,1248,273)"><tspan x="0" y="-1">Conv</tspan><tspan x="0" y="7">1x1+1(S)</tspan></text>
<rect class="b" x="1237" y="373" width="22" height="140"/><text class="n" transform="matrix(0,3.46,-1,0,1248,443)"><tspan x="0" y="-1">Conv</tspan><tspan x="0" y="7">3x3+1(S)</tspan></text>
<rect class="b" x="1237" y="542" width="22" height="142"/><text class="n" transform="matrix(0,3.46,-1,0,1248,613)"><tspan x="0" y="-1">Conv</tspan><tspan x="0" y="7">5x5+1(S)</tspan></text>
<rect class="b" x="1237" y="710" width="22" height="145"/><text class="n" transform="matrix(0,3.46,-1,0,1248,782)"><tspan x="0" y="-1">Conv</tspan><tspan x="0" y="7">1x1+1(S)</tspan></text>
<rect class="g" x="1276" y="437" width="18" height="182"/><text class="n" transform="matrix(0,3.46,-1,0,1285,528)" y="3">DepthConcat</text>

<!-- 5b -->
<rect class="b" x="1311" y="373" width="23" height="140"/><text class="n" transform="matrix(0,3.46,-1,0,1322,443)"><tspan x="0" y="-1">Conv</tspan><tspan x="0" y="7">1x1+1(S)</tspan></text>
<rect class="b" x="1311" y="542" width="23" height="142"/><text class="n" transform="matrix(0,3.46,-1,0,1322,613)"><tspan x="0" y="-1">Conv</tspan><tspan x="0" y="7">1x1+1(S)</tspan></text>
<rect class="r" x="1311" y="710" width="23" height="145"/><text class="n" transform="matrix(0,3.46,-1,0,1322,782)"><tspan x="0" y="-1">MaxPool</tspan><tspan x="0" y="7">3x3+1(S)</tspan></text>
<rect class="b" x="1350" y="202" width="22" height="143"/><text class="n" transform="matrix(0,3.46,-1,0,1361,273)"><tspan x="0" y="-1">Conv</tspan><tspan x="0" y="7">1x1+1(S)</tspan></text>
<rect class="b" x="1350" y="373" width="22" height="140"/><text class="n" transform="matrix(0,3.46,-1,0,1361,443)"><tspan x="0" y="-1">Conv</tspan><tspan x="0" y="7">3x3+1(S)</tspan></text>
<rect class="b" x="1350" y="542" width="22" height="142"/><text class="n" transform="matrix(0,3.46,-1,0,1361,613)"><tspan x="0" y="-1">Conv</tspan><tspan x="0" y="7">5x5+1(S)</tspan></text>
<rect class="b" x="1350" y="710" width="22" height="145"/><text class="n" transform="matrix(0,3.46,-1,0,1361,782)"><tspan x="0" y="-1">Conv</tspan><tspan x="0" y="7">1x1+1(S)</tspan></text>
<rect class="g" x="1390" y="437" width="18" height="182"/><text class="n" transform="matrix(0,3.46,-1,0,1399,528)" y="3">DepthConcat</text>
<rect class="r" x="1425" y="442" width="22" height="170"/><text class="n" transform="matrix(0,3.46,-1,0,1436,527)"><tspan x="0" y="-1">AveragePool</tspan><tspan x="0" y="7">7x7+1(V)</tspan></text>
<rect class="b" x="1464" y="482" width="18" height="94"/><text class="n" transform="matrix(0,3.46,-1,0,1473,529)" y="3">FC</text>
<rect class="y" x="1500" y="405" width="18" height="245"/><text class="n" transform="matrix(0,3.46,-1,0,1509,527)" y="3">SoftmaxActivation</text>
</g>

<!-- ===== Surrogate box ===== -->
<rect x="5214" y="1525" width="640" height="319" fill="#fff2cc" stroke="#2f5597" stroke-width="12"/>
<text class="t" x="5339" y="1656" font-size="95" textLength="389" lengthAdjust="spacingAndGlyphs">Top-20%</text>
<text class="t" x="5318" y="1789" font-size="95" textLength="432" lengthAdjust="spacingAndGlyphs">surrogate</text>

<!-- ===== Regression plot ===== -->
<g transform="translate(6200,1020) scale(1.0204,.9567)">
<rect x="282" y="168" width="1201" height="1142" fill="#fff" stroke="#555" stroke-width="3" vector-effect="non-scaling-stroke"/>
<path d="M326,1310V1330M549,1310V1330M771,1310V1330M994,1310V1330M1216,1310V1330M1440,1310V1330M262,1268H282M262,1096H282M262,926H282M262,756H282M262,586H282M262,416H282M262,246H282" stroke="#555" stroke-width="2.5" fill="none" vector-effect="non-scaling-stroke"/>
<g fill="#0000f0">
<circle cx="415" cy="231" r="10.5"/><circle cx="559" cy="272" r="10.5"/><circle cx="481" cy="331" r="10.5"/><circle cx="526" cy="385" r="10.5"/><circle cx="437" cy="432" r="10.5"/><circle cx="426" cy="443" r="10.5"/><circle cx="359" cy="466" r="10.5"/><circle cx="359" cy="470" r="10.5"/><circle cx="615" cy="531" r="10.5"/><circle cx="603" cy="538" r="10.5"/><circle cx="559" cy="586" r="10.5"/><circle cx="649" cy="586" r="10.5"/><circle cx="603" cy="600" r="10.5"/><circle cx="671" cy="620" r="10.5"/><circle cx="526" cy="630" r="10.5"/><circle cx="603" cy="637" r="10.5"/><circle cx="481" cy="647" r="10.5"/><circle cx="870" cy="760" r="10.5"/><circle cx="926" cy="784" r="10.5"/><circle cx="982" cy="851" r="10.5"/><circle cx="1027" cy="848" r="10.5"/><circle cx="1150" cy="909" r="10.5"/><circle cx="1384" cy="889" r="10.5"/><circle cx="1360" cy="899" r="10.5"/><circle cx="1338" cy="966" r="10.5"/>
</g>
<path d="M326,390L1440,1023" stroke="#ffa500" stroke-width="4" fill="none" vector-effect="non-scaling-stroke"/>
</g>
<g class="tk" text-anchor="middle">
<text x="6533" y="2353">0.0</text><text x="6760" y="2353">0.2</text><text x="6987" y="2353">0.4</text><text x="7215" y="2353">0.6</text><text x="7441" y="2353">0.8</text><text x="7669" y="2353">1.0</text>
<text transform="translate(6433,2233) rotate(-90)">0</text>
<text transform="translate(6433,2068) rotate(-90)">5</text>
<text transform="translate(6433,1906) rotate(-90)">10</text>
<text transform="translate(6433,1743) rotate(-90)">15</text>
<text transform="translate(6433,1581) rotate(-90)">20</text>
<text transform="translate(6433,1418) rotate(-90)">25</text>
<text transform="translate(6433,1255) rotate(-90)">30</text>
</g>
<text transform="translate(6343,1728) rotate(-90)" text-anchor="middle" font-size="38" fill="#222" textLength="417" lengthAdjust="spacingAndGlyphs">Unemployment Rate (%)</text>
<text x="6886" y="2445" font-size="38" fill="#222" textLength="430" lengthAdjust="spacingAndGlyphs">Fraction of high SES cars</text>
<text x="6786" y="1106" font-size="46" font-weight="bold" fill="#111" textLength="626" lengthAdjust="spacingAndGlyphs">Linear Regression (Top 20%)</text>
</svg>
</body>
</html>
